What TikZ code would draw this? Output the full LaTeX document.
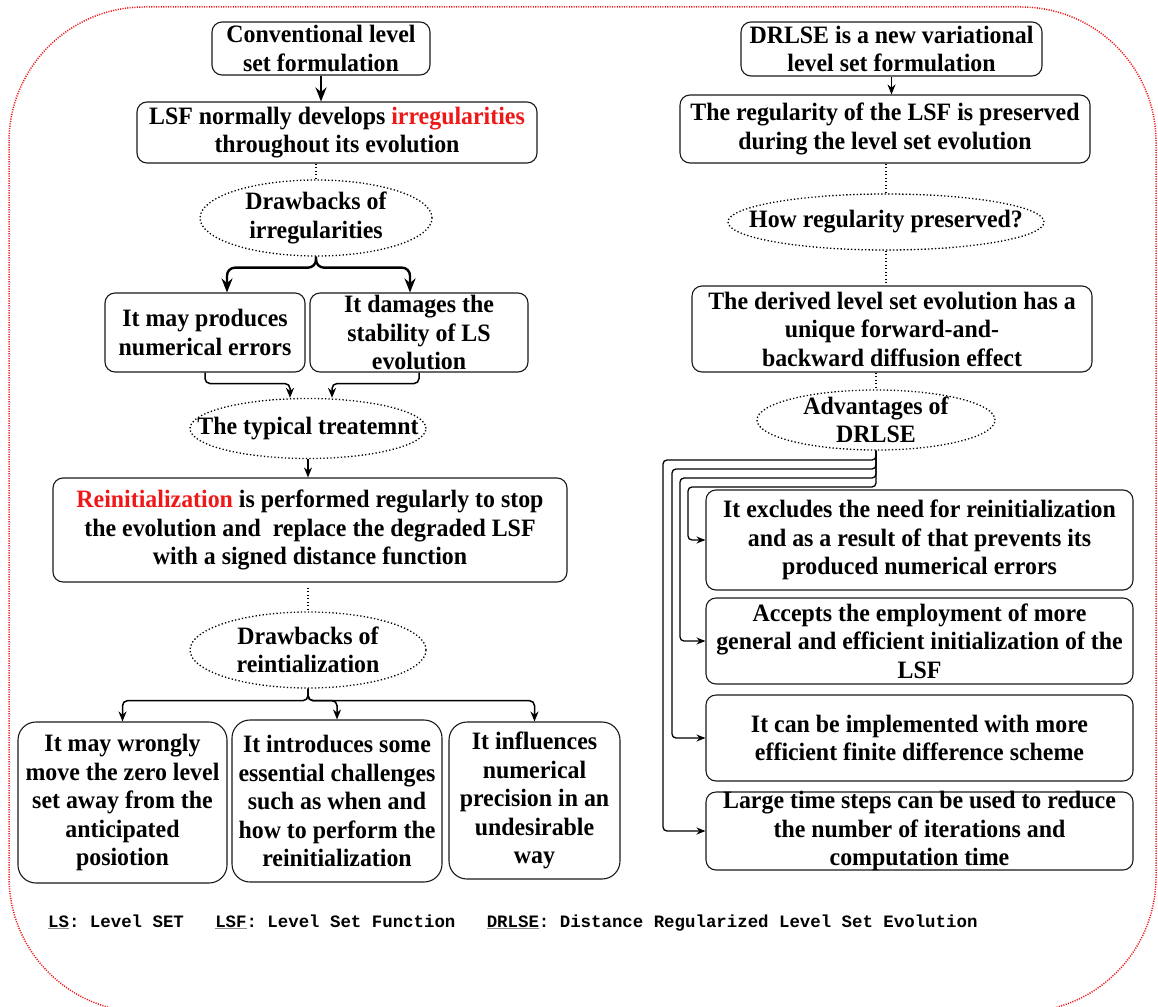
\documentclass[tikz,border=0pt]{standalone}
\usepackage{fontspec}
\setmainfont{Liberation Serif}[FakeStretch=0.955]
\setmonofont{Liberation Mono}
\usetikzlibrary{arrows.meta,shapes.geometric}
\definecolor{myred}{RGB}{238,24,24}
\newcommand\abbrul[1]{\textcolor{black!45}{\underline{\textcolor{black}{#1}}}}
\begin{document}
\begin{tikzpicture}[x=1pt,y=-1pt,
  bx/.style={draw=black!90, line width=1.1pt, rounded corners=10pt, inner sep=0pt},
  bxr/.style={bx, rounded corners=18pt},
  el/.style={ellipse, draw, line width=1.3pt, dash pattern=on 1.3pt off 2.2pt, inner sep=0pt},
  tx/.style={align=center, inner sep=0pt, font=\fontsize{25}{28.5}\selectfont\bfseries},
  dotc/.style={line width=1.3pt, dash pattern=on 1.3pt off 2.2pt},
  arr/.style={-{Stealth[length=10pt,width=8pt]}, line width=1.5pt, rounded corners=5pt},
  arrb/.style={-{Stealth[length=14pt,width=11pt]}, line width=2.4pt, rounded corners=8pt},
  arrs/.style={-{Stealth[length=9pt,width=7pt]}, line width=1.3pt, rounded corners=4pt}
]
\useasboundingbox (0,0) rectangle (1158,1006);
\begin{scope}
\clip (0,0) rectangle (1158,1006);
\draw[myred, line width=1.5pt, dash pattern=on 1.1pt off 1.3pt, rounded corners=135pt] (9,7) rectangle (1156,1012);
\end{scope}

% ---------- left column ----------
\node[bx, minimum width=218pt, minimum height=53pt] (c1) at (321,48.5) {};
\node[tx] (c1t) at (c1) {Conventional level\\set formulation};
\node[bx, minimum width=400pt, minimum height=61pt] (c2) at (337,132.5) {};
\node[tx] (c2t) at (c2) {LSF normally develops \textcolor{myred}{irregularities}\\throughout its evolution};
\node[el, minimum width=232pt, minimum height=76pt] (d1) at (316,218) {};
\node[tx] (d1t) at (d1) {Drawbacks of\\irregularities};
\node[bx, minimum width=200pt, minimum height=79pt] (p1) at (205,332.5) {};
\node[tx] (p1t) at (p1) {It may produces\\numerical errors};
\node[bx, minimum width=218pt, minimum height=79pt] (p2) at (419,332.5) {};
\node[tx] (p2t) at (p2) {It damages the\\stability of LS\\evolution};
\node[el, minimum width=236pt, minimum height=60pt] (tt) at (308,428.5) {};
\node[tx] (ttt) at (tt) {The typical treatemnt};
\node[bx, minimum width=514pt, minimum height=104pt] (c3) at (310,530) {};
\node[tx] (c3t) at (c3) {\textcolor{myred}{Reinitialization} is performed regularly to stop\\the evolution and\ \ replace the degraded LSF\\with a signed distance function};
\node[el, minimum width=236pt, minimum height=76pt] (d2) at (308,650) {};
\node[tx] (d2t) at (d2) {Drawbacks of\\reintialization};
\node[bxr, minimum width=209pt, minimum height=161pt] (q1) at (122.5,802.5) {};
\node[tx] (q1t) at (q1) {It may wrongly\\move the zero level\\set away from the\\anticipated\\posiotion};
\node[bxr, minimum width=210pt, minimum height=162pt] (q2) at (337,801) {};
\node[tx] (q2t) at (q2) {It introduces some\\essential challenges\\such as when and\\how to perform the\\reinitialization};
\node[bxr, minimum width=171pt, minimum height=157pt] (q3) at (534.5,800.5) {};
\node[tx] (q3t) at (q3) {It influences\\numerical\\precision in an\\undesirable\\way};

% left connectors
\draw[arrb, line width=2.2pt] (c1.south) -- (c1.south |- c2.north);
\draw[dotc] (d1.north |- c2.south) -- (d1.north);
\draw[arrb] (d1.south) -- ++(0,11) -| ([xshift=22pt]p1.north);
\draw[arrb] (d1.south) -- ++(0,11) -| ([xshift=-9pt]p2.north);
\draw[arr] (p1.south) -- ++(0,11) -| ([xshift=-18pt]tt.north);
\draw[arr] (p2.south) -- ++(0,11) -| ([xshift=24pt]tt.north);
\draw[arr] (tt.south) -- (tt.south |- c3.north);
\draw[dotc] ([yshift=-5pt]c3.south -| d2.north) -- (d2.north);
\draw[arr] (d2.south) -- ++(0,12) -| (q1.north);
\draw[arr] (d2.south) -- ++(0,12) -| (q2.north);
\draw[arr] (d2.south) -- ++(0,12) -| (q3.north);

% ---------- right column ----------
\node[bx, minimum width=301pt, minimum height=54pt] (r1) at (891.5,49) {};
\node[tx] (r1t) at (r1) {DRLSE is a new variational\\level set formulation};
\node[bx, minimum width=410pt, minimum height=68pt] (r2) at (885,129) {};
\node[tx] (r2t) at (r2) {The regularity of the LSF is preserved\\during the level set evolution};
\node[el, minimum width=316pt, minimum height=56pt] (e3) at (886,222) {};
\node[tx] (e3t) at (e3) {How regularity preserved?};
\node[bx, minimum width=400pt, minimum height=86pt] (r3) at (892,329) {};
\node[tx] (r3t) at (r3) {The derived level set evolution has a\\unique forward-and-\\backward diffusion effect};
\node[el, minimum width=238pt, minimum height=60pt] (e4) at (876,420) {};
\node[tx] (e4t) at (e4) {Advantages of\\DRLSE};
\node[bx, minimum width=427pt, minimum height=100pt] (A) at (919.5,540) {};
\node[tx] (At) at (A) {It excludes the need for reinitialization\\and as a result of that prevents its\\produced numerical errors};
\node[bx, minimum width=427pt, minimum height=86pt] (B) at (919.5,641) {};
\node[tx] (Bt) at (B) {Accepts the employment of more\\general and efficient initialization of the\\LSF};
\node[bx, minimum width=427pt, minimum height=86pt] (C) at (919.5,738) {};
\node[tx] (Ct) at (C) {It can be implemented with more\\efficient finite difference scheme};
\node[bx, minimum width=427pt, minimum height=78pt] (D) at (919.5,831) {};
\node[tx] (Dt) at (D) {Large time steps can be used to reduce\\the number of iterations and\\computation time};

% right connectors
\draw[arr, line width=1.3pt] (r1.south) -- (r1.south |- r2.north);
\draw[dotc] (e3.north |- r2.south) -- (e3.north);
\draw[dotc] (e3.south) -- (e3.south |- r3.north);
\draw[dotc] (e4.north |- r3.south) -- (e4.north);
\draw[arrs] (e4.south) |- (688,487) |- (A.west);
\draw[arrs] (e4.south) |- (680,478) |- (B.west);
\draw[arrs] (e4.south) |- (672,469) |- (C.west);
\draw[arrs] (e4.south) |- (663,460) |- (D.west);

% footer
\node[anchor=base west, inner sep=0pt, font=\fontsize{17.4}{20}\selectfont\ttfamily\bfseries] (foot) at (48,927)
 {\abbrul{LS}: Level SET\ \ \ \abbrul{LSF}: Level Set Function\ \ \ \abbrul{DRLSE}: Distance Regularized Level Set Evolution};
\end{tikzpicture}
\end{document}
